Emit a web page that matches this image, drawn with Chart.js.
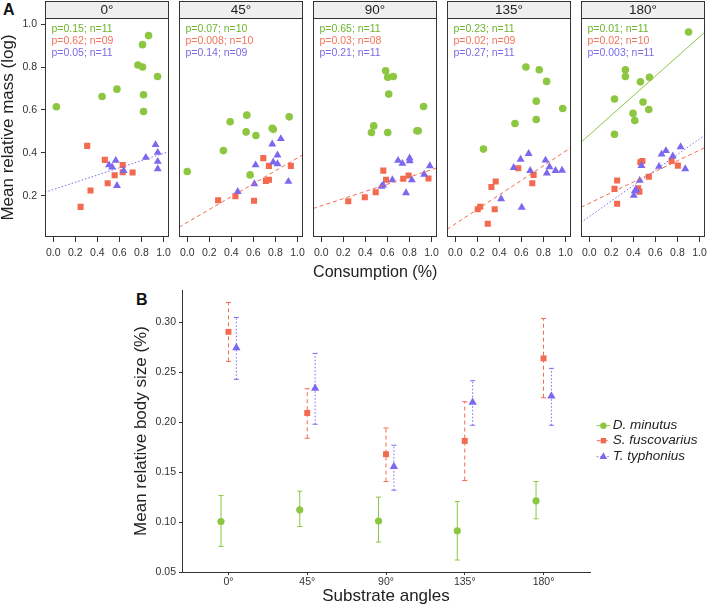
<!DOCTYPE html>
<html>
<head>
<meta charset="utf-8">
<script src="https://cdn.jsdelivr.net/npm/chart.js@4.4.0/dist/chart.umd.min.js"></script>
<style>
  body { margin: 0; background: #fff; width: 708px; height: 610px; overflow: hidden; position: relative;
         font-family: "Liberation Sans", Arial, sans-serif; }
  canvas { position: absolute; }
  .tag { position: absolute; font-weight: bold; font-size: 16px; color: #111; }
</style>
</head>
<body>
<div class="tag" style="left:3px;top:1px">A</div>
<div class="tag" style="left:136px;top:291px">B</div>
<script>
// ---- data ----
const angles = ["0°", "45°", "90°", "135°", "180°"];
const species = ["D. minutus", "S. fuscovarius", "T. typhonius"];
const xTicksA = [0, 0.2, 0.4, 0.6, 0.8, 1.0];
const yTicksA = [0.2, 0.4, 0.6, 0.8, 1.0];
const yTicksB = [0.05, 0.10, 0.15, 0.20, 0.25, 0.30];

// panel A: one inner list per angle (consumption, mean relative mass)
const dMinX = [
  [0.028, 0.443, 0.578, 0.768, 0.810, 0.810, 0.865, 0.946, 0.819, 0.819],
  [0.0, 0.328, 0.389, 0.540, 0.534, 0.623, 0.771, 0.781, 0.925, 0.570],
  [0.584, 0.603, 0.654, 0.612, 0.928, 0.476, 0.455, 0.603, 0.868, 0.880],
  [0.256, 0.542, 0.641, 0.762, 0.829, 0.735, 0.735, 0.975],
  [0.901, 0.328, 0.328, 0.464, 0.546, 0.229, 0.488, 0.540, 0.397, 0.413, 0.229],
];
const dMinY = [
  [0.615, 0.663, 0.697, 0.809, 0.800, 0.904, 0.946, 0.756, 0.671, 0.593],
  [0.314, 0.411, 0.545, 0.576, 0.498, 0.481, 0.515, 0.510, 0.568, 0.298],
  [0.782, 0.752, 0.756, 0.674, 0.616, 0.526, 0.495, 0.495, 0.503, 0.503],
  [0.418, 0.537, 0.800, 0.787, 0.733, 0.641, 0.556, 0.607],
  [0.963, 0.787, 0.756, 0.731, 0.752, 0.651, 0.637, 0.602, 0.584, 0.551, 0.487],
];
const sFusX = [
  [0.308, 0.468, 0.630, 0.630, 0.557, 0.720, 0.494, 0.338, 0.248],
  [0.280, 0.437, 0.606, 0.690, 0.741, 0.714, 0.741, 0.940],
  [0.245, 0.395, 0.494, 0.563, 0.588, 0.744, 0.792, 0.973],
  [0.295, 0.204, 0.226, 0.358, 0.328, 0.367, 0.572, 0.711, 0.699],
  [0.253, 0.229, 0.253, 0.464, 0.482, 0.540, 0.443, 0.455, 0.747, 0.804],
];
const sFusY = [
  [0.433, 0.368, 0.344, 0.310, 0.296, 0.309, 0.259, 0.225, 0.149],
  [0.180, 0.199, 0.178, 0.376, 0.340, 0.270, 0.275, 0.340],
  [0.175, 0.194, 0.217, 0.318, 0.275, 0.280, 0.295, 0.281],
  [0.071, 0.138, 0.150, 0.138, 0.242, 0.267, 0.329, 0.298, 0.259],
  [0.272, 0.233, 0.164, 0.357, 0.363, 0.289, 0.236, 0.220, 0.363, 0.341],
];
const tTypX = [
  [0.506, 0.534, 0.567, 0.639, 0.578, 0.840, 0.928, 0.948, 0.948, 0.948],
  [0.458, 0.609, 0.620, 0.771, 0.849, 0.819, 0.780, 0.819, 0.918],
  [0.546, 0.561, 0.645, 0.697, 0.736, 0.802, 0.802, 0.822, 0.769, 0.934, 0.985],
  [0.416, 0.603, 0.530, 0.593, 0.666, 0.680, 0.819, 0.855, 0.831, 0.910, 0.969],
  [0.404, 0.413, 0.426, 0.458, 0.474, 0.633, 0.656, 0.696, 0.758, 0.829, 0.871],
];
const tTypY = [
  [0.344, 0.334, 0.365, 0.317, 0.248, 0.379, 0.438, 0.402, 0.360, 0.326],
  [0.220, 0.256, 0.344, 0.441, 0.466, 0.390, 0.357, 0.349, 0.267],
  [0.244, 0.250, 0.275, 0.365, 0.351, 0.376, 0.363, 0.274, 0.214, 0.300, 0.340],
  [0.186, 0.147, 0.332, 0.370, 0.397, 0.318, 0.366, 0.335, 0.306, 0.318, 0.319],
  [0.202, 0.223, 0.228, 0.272, 0.341, 0.337, 0.394, 0.410, 0.385, 0.428, 0.326],
];

// regression stats per angle
const pD = ["0.15", "0.07", "0.65", "0.23", "0.01"];
const nD = ["11", "10", "11", "11", "11"];
const pS = ["0.62", "0.008", "0.03", "0.02", "0.02"];
const nS = ["09", "10", "08", "09", "10"];
const pT = ["0.05", "0.14", "0.21", "0.27", "0.003"];
const nT = ["11", "09", "11", "11", "11"];

// fitted lines (intercept, slope), null = no line drawn
const fitInterD = [null, null, null, null, 0.484];
const fitSlopeD = [null, null, null, null, 0.456];
const fitInterS = [null, 0.077, 0.154, 0.070, 0.166];
const fitSlopeS = [null, 0.300, 0.168, 0.338, 0.247];
const fitInterT = [0.230, null, null, null, 0.104];
const fitSlopeT = [0.168, null, null, null, 0.361];

// panel B: mean relative body size with interval
const dMean = [0.1006, 0.1123, 0.1010, 0.0913, 0.1213];
const dLo = [0.0756, 0.0956, 0.0800, 0.0620, 0.1033];
const dHi = [0.1266, 0.1310, 0.1250, 0.1206, 0.1406];
const sMean = [0.2906, 0.2093, 0.1680, 0.1813, 0.2640];
const sLo = [0.2610, 0.1840, 0.1406, 0.1416, 0.2246];
const sHi = [0.3200, 0.2336, 0.1943, 0.2206, 0.3040];
const tMean = [0.2746, 0.2340, 0.1556, 0.2200, 0.2263];
const tLo = [0.2430, 0.1980, 0.1320, 0.1970, 0.1970];
const tHi = [0.3050, 0.2690, 0.1770, 0.2416, 0.2540];

// ---- styles ----
Chart.defaults.font.family = '"Liberation Sans", Arial, sans-serif';
Chart.defaults.color = "#333";
const colors = ["#8dc641", "#f26a50", "#7b68ee"];
const textColors = ["#6db52c", "#f3745c", "#7b6ce4"];
const shapes = ["circle", "rect", "triangle"];
const radiiA = [3.8, 4.3, 4.6];
const radiiB = [3.6, 4.2, 4.8];
const dashes = [[], [4, 3], [1.5, 2]];
const dodge = [-0.095, 0, 0.1];

const xsA = [dMinX, sFusX, tTypX];
const ysA = [dMinY, sFusY, tTypY];
const pA = [pD, pS, pT];
const nA = [nD, nS, nT];
const interA = [fitInterD, fitInterS, fitInterT];
const slopeA = [fitSlopeD, fitSlopeS, fitSlopeT];
const xMinA = -0.075, xMaxA = 1.054;

const panelLeft = [45, 179, 313, 447, 581];
const panelW = 126;

function addCanvas(left, top, w, h) {
  const cv = document.createElement("canvas");
  cv.width = w;
  cv.height = h;
  cv.style.left = left + "px";
  cv.style.top = top + "px";
  document.body.appendChild(cv);
  return cv;
}

function drawMarker(ctx, shape, x, y, r, color) {
  ctx.fillStyle = color;
  ctx.beginPath();
  if (shape === "circle") {
    ctx.arc(x, y, r, 0, Math.PI * 2);
  } else if (shape === "rect") {
    const s = r * Math.SQRT1_2;
    ctx.rect(x - s, y - s, 2 * s, 2 * s);
  } else {
    ctx.moveTo(x, y - r);
    ctx.lineTo(x + r * 0.866, y + r / 2);
    ctx.lineTo(x - r * 0.866, y + r / 2);
    ctx.closePath();
  }
  ctx.fill();
}

// strip header, panel frame and p/n labels
const facetDecor = {
  id: "facetDecor",
  afterDraw(chart) {
    const k = chart.options.plugins.facetDecor.k;
    const { ctx, chartArea: a } = chart;
    const l = Math.round(a.left) + 0.5, r = Math.round(a.right) - 0.5;
    const t = Math.round(a.top) + 0.5, b = Math.round(a.bottom) - 0.5;
    ctx.save();
    ctx.fillStyle = "#efefef";
    ctx.fillRect(l, 1.5, r - l, t - 1.5);
    ctx.strokeStyle = "#333";
    ctx.lineWidth = 1;
    ctx.strokeRect(l, 1.5, r - l, t - 1.5);
    ctx.strokeRect(l, t, r - l, b - t);
    ctx.fillStyle = "#222";
    ctx.font = '13.5px "Liberation Sans", Arial, sans-serif';
    ctx.textAlign = "center";
    ctx.textBaseline = "middle";
    ctx.fillText(angles[k], (l + r) / 2, 10);
    ctx.font = '10.5px "Liberation Sans", Arial, sans-serif';
    ctx.textAlign = "left";
    for (let s = 0; s < 3; s++) {
      ctx.fillStyle = textColors[s];
      ctx.fillText("p=" + pA[s][k] + "; n=" + nA[s][k], a.left + 6.5, 29 + s * 12);
    }
    ctx.restore();
  },
};

function facetChart(k) {
  const first = k === 0;
  const padL = first ? 0 : 10;
  const axisW = first ? 45 : 0;
  const canvasLeft = panelLeft[k] - padL - axisW;
  const cv = addCanvas(canvasLeft, 0, padL + axisW + panelW + 5, 283);

  const datasets = [];
  for (let s = 0; s < 3; s++) {
    datasets.push({
      data: xsA[s][k].map((x, i) => ({ x: x, y: ysA[s][k][i] })),
      pointStyle: shapes[s],
      pointRadius: radiiA[s],
      pointBackgroundColor: colors[s],
      pointBorderWidth: 0,
      order: 3 - s,
    });
  }
  for (let s = 0; s < 3; s++) {
    const a = interA[s][k], b = slopeA[s][k];
    if (a === null) continue;
    datasets.push({
      data: [{ x: xMinA, y: a + b * xMinA }, { x: xMaxA, y: a + b * xMaxA }],
      showLine: true,
      pointRadius: 0,
      borderColor: colors[s],
      borderWidth: 1,
      borderDash: dashes[s],
      order: 0,
    });
  }

  new Chart(cv, {
    type: "scatter",
    data: { datasets },
    options: {
      responsive: false,
      animation: false,
      layout: { padding: { left: padL, right: 5, top: 18, bottom: 0 } },
      plugins: { legend: { display: false }, tooltip: { enabled: false }, facetDecor: { k } },
      scales: {
        x: {
          min: xMinA,
          max: xMaxA,
          afterBuildTicks: (sc) => { sc.ticks = xTicksA.map((v) => ({ value: v })); },
          afterFit: (sc) => { sc.height = 46; },
          grid: { display: true, drawOnChartArea: false, drawTicks: true, tickLength: 5, color: "#333" },
          border: { display: false },
          ticks: { font: { size: 10.5 }, color: "#333", padding: 5, autoSkip: false, maxRotation: 0,
                   callback: (v) => v.toFixed(1) },
          title: { display: k === 2, text: "Consumption (%)", font: { size: 17 }, color: "#222",
                   padding: { top: 0, bottom: 0 } },
        },
        y: {
          display: first,
          min: 0.009,
          max: 1.028,
          afterBuildTicks: (sc) => { sc.ticks = yTicksA.map((v) => ({ value: v })); },
          afterFit: (sc) => { if (first) sc.width = 45; },
          grid: { display: true, drawOnChartArea: false, drawTicks: true, tickLength: 4, color: "#333" },
          border: { display: false },
          ticks: { font: { size: 10.5 }, color: "#333", padding: 4, callback: (v) => v.toFixed(1) },
          title: { display: true, text: "Mean relative mass (log)", font: { size: 17 }, color: "#222",
                   padding: { top: -2, bottom: 0 } },
        },
      },
    },
    plugins: [facetDecor],
  });
}

for (let k = 0; k < angles.length; k++) facetChart(k);

// ---- panel B ----
const meansB = [dMean, sMean, tMean];
const losB = [dLo, sLo, tLo];
const hisB = [dHi, sHi, tHi];

const errorBars = {
  id: "errorBars",
  beforeDatasetsDraw(chart) {
    const { ctx, scales } = chart;
    ctx.save();
    ctx.lineWidth = 1;
    for (let s = 0; s < 3; s++) {
      ctx.strokeStyle = colors[s];
      for (let j = 0; j < meansB[s].length; j++) {
        const x = scales.x.getPixelForValue(j + dodge[s]);
        const y0 = scales.y.getPixelForValue(losB[s][j]);
        const y1 = scales.y.getPixelForValue(hisB[s][j]);
        ctx.setLineDash(dashes[s]);
        ctx.beginPath();
        ctx.moveTo(x, y0);
        ctx.lineTo(x, y1);
        ctx.stroke();
        ctx.setLineDash([]);
        ctx.beginPath();
        ctx.moveTo(x - 2.5, y0); ctx.lineTo(x + 2.5, y0);
        ctx.moveTo(x - 2.5, y1); ctx.lineTo(x + 2.5, y1);
        ctx.stroke();
      }
    }
    ctx.restore();
  },
  afterDraw(chart) {
    const ctx = chart.ctx;
    const rows = [145.7, 160.7, 176.7];
    ctx.save();
    ctx.font = 'italic 13.5px "Liberation Sans", Arial, sans-serif';
    ctx.textBaseline = "middle";
    for (let s = 0; s < 3; s++) {
      ctx.strokeStyle = colors[s];
      ctx.lineWidth = 1;
      ctx.setLineDash(dashes[s]);
      ctx.beginPath();
      ctx.moveTo(496.7, rows[s]);
      ctx.lineTo(510, rows[s]);
      ctx.stroke();
      ctx.setLineDash([]);
      drawMarker(ctx, shapes[s], 503.4, rows[s], radiiB[s] - 0.4, colors[s]);
      ctx.fillStyle = "#222";
      ctx.fillText(species[s], 512.7, rows[s]);
    }
    ctx.restore();
  },
};

const cvB = addCanvas(100, 280, 608, 330);
new Chart(cvB, {
  type: "scatter",
  data: {
    datasets: meansB.map((m, s) => ({
      label: species[s],
      data: m.map((v, j) => ({ x: j + dodge[s], y: v })),
      pointStyle: shapes[s],
      pointRadius: radiiB[s],
      pointBackgroundColor: colors[s],
      pointBorderWidth: 0,
      order: 3 - s,
    })),
  },
  options: {
    responsive: false,
    animation: false,
    layout: { padding: { left: 31, right: 118, top: 10, bottom: 0 } },
    plugins: { legend: { display: false }, tooltip: { enabled: false } },
    scales: {
      x: {
        min: -0.59,
        max: 4.59,
        afterBuildTicks: (sc) => { sc.ticks = angles.map((a, i) => ({ value: i })); },
        afterFit: (sc) => { sc.height = 38; },
        grid: { display: true, drawOnChartArea: false, drawTicks: true, tickLength: 3, color: "#333" },
        border: { display: true, color: "#333", width: 1 },
        ticks: { font: { size: 10.5 }, color: "#333", padding: 1, autoSkip: false, maxRotation: 0,
                 callback: (v) => angles[v] },
        title: { display: true, text: "Substrate angles", font: { size: 17 }, color: "#222",
                 padding: { top: 0, bottom: 3 } },
      },
      y: {
        min: 0.05,
        max: 0.3325,
        afterBuildTicks: (sc) => { sc.ticks = yTicksB.map((v) => ({ value: v })); },
        afterFit: (sc) => { sc.width = 51; },
        grid: { display: true, drawOnChartArea: false, drawTicks: true, tickLength: 3, color: "#333" },
        border: { display: true, color: "#333", width: 1 },
        ticks: { font: { size: 10.5 }, color: "#333", padding: 3, callback: (v) => v.toFixed(2) },
        title: { display: true, text: "Mean relative body size (%)", font: { size: 17 }, color: "#222",
                 padding: { top: 0, bottom: 0 } },
      },
    },
  },
  plugins: [errorBars],
});
</script>
</body>
</html>
